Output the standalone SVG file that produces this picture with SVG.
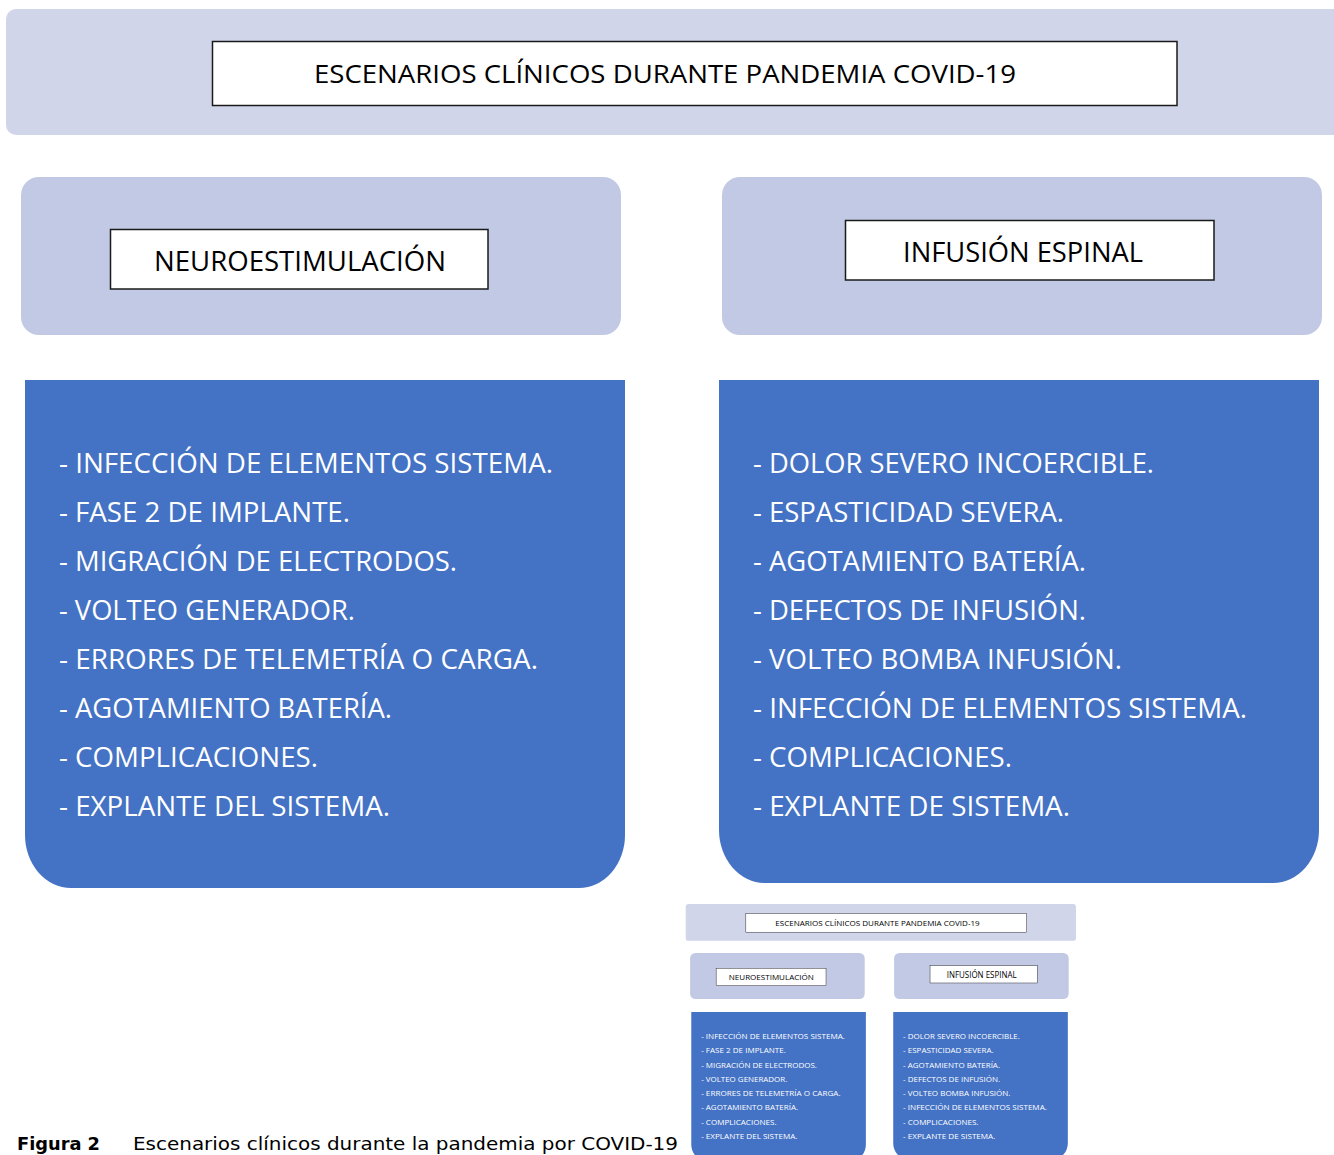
<svg xmlns="http://www.w3.org/2000/svg" xmlns:xlink="http://www.w3.org/1999/xlink" width="1334" height="1155" viewBox="0 0 1334 1155">
<style>
.banner{fill:#D0D5EA}
.hdr{fill:#C1C9E5}
.lbl{fill:#FFFFFF;stroke:#1A1A1A;stroke-width:1.5}
.blue{fill:#4472C4}
.t{font-family:"Open Sans","Liberation Sans",sans-serif;fill:#000}
.li{font-family:"Open Sans","Liberation Sans",sans-serif;fill:#FFFFFF;font-size:27px}
.cap{font-family:"DejaVu Sans","Liberation Sans",sans-serif;font-size:18px;fill:#000}
</style>
<rect width="1334" height="1155" fill="#FFFFFF"/>
<g id="main">
  <g id="node-title">
    <rect class="banner" x="6" y="9" width="1341" height="126" rx="10"/>
    <rect class="lbl" x="212.5" y="41.5" width="964.5" height="64"/>
    <text class="t" x="314" y="83" font-size="25" textLength="702" lengthAdjust="spacingAndGlyphs">ESCENARIOS CLÍNICOS DURANTE PANDEMIA COVID-19</text>
  </g>
  <g id="node-neuro">
    <rect class="hdr" x="21" y="177" width="600" height="158" rx="18"/>
    <rect class="lbl" x="110.5" y="229.5" width="377.5" height="59.5"/>
    <text class="t" x="154" y="271" font-size="27" textLength="292" lengthAdjust="spacingAndGlyphs">NEUROESTIMULACIÓN</text>
  </g>
  <g id="node-infusion">
    <rect class="hdr" x="722" y="177" width="600" height="158" rx="18"/>
    <rect class="lbl" x="845.5" y="220.5" width="368.5" height="59.5"/>
    <text class="t" x="903" y="262" font-size="28" textLength="240" lengthAdjust="spacingAndGlyphs">INFUSIÓN ESPINAL</text>
  </g>
  <g id="node-neuro-list">
    <path class="blue" d="M25 380 H625 V835 A46 53 0 0 1 579 888 H71 A46 53 0 0 1 25 835 Z"/>
    <text class="li" x="59" y="473" textLength="494" lengthAdjust="spacingAndGlyphs">- INFECCIÓN DE ELEMENTOS SISTEMA.</text>
    <text class="li" x="59" y="522" textLength="291" lengthAdjust="spacingAndGlyphs">- FASE 2 DE IMPLANTE.</text>
    <text class="li" x="59" y="571" textLength="398" lengthAdjust="spacingAndGlyphs">- MIGRACIÓN DE ELECTRODOS.</text>
    <text class="li" x="59" y="620" textLength="296" lengthAdjust="spacingAndGlyphs">- VOLTEO GENERADOR.</text>
    <text class="li" x="59" y="669" textLength="479" lengthAdjust="spacingAndGlyphs">- ERRORES DE TELEMETRÍA O CARGA.</text>
    <text class="li" x="59" y="718" textLength="333" lengthAdjust="spacingAndGlyphs">- AGOTAMIENTO BATERÍA.</text>
    <text class="li" x="59" y="767" textLength="259" lengthAdjust="spacingAndGlyphs">- COMPLICACIONES.</text>
    <text class="li" x="59" y="816" textLength="331" lengthAdjust="spacingAndGlyphs">- EXPLANTE DEL SISTEMA.</text>
  </g>
  <g id="node-infusion-list">
    <path class="blue" d="M719 380 H1319 V830 A46 53 0 0 1 1273 883 H765 A46 53 0 0 1 719 830 Z"/>
    <text class="li" x="753" y="473" textLength="401" lengthAdjust="spacingAndGlyphs">- DOLOR SEVERO INCOERCIBLE.</text>
    <text class="li" x="753" y="522" textLength="311" lengthAdjust="spacingAndGlyphs">- ESPASTICIDAD SEVERA.</text>
    <text class="li" x="753" y="571" textLength="333" lengthAdjust="spacingAndGlyphs">- AGOTAMIENTO BATERÍA.</text>
    <text class="li" x="753" y="620" textLength="333" lengthAdjust="spacingAndGlyphs">- DEFECTOS DE INFUSIÓN.</text>
    <text class="li" x="753" y="669" textLength="369" lengthAdjust="spacingAndGlyphs">- VOLTEO BOMBA INFUSIÓN.</text>
    <text class="li" x="753" y="718" textLength="494" lengthAdjust="spacingAndGlyphs">- INFECCIÓN DE ELEMENTOS SISTEMA.</text>
    <text class="li" x="753" y="767" textLength="259" lengthAdjust="spacingAndGlyphs">- COMPLICACIONES.</text>
    <text class="li" x="753" y="816" textLength="317" lengthAdjust="spacingAndGlyphs">- EXPLANTE DE SISTEMA.</text>
  </g>
</g>
<g id="connectors"/>
<g id="thumbnail">
  <use href="#main" xlink:href="#main" transform="translate(684,901.5) scale(0.291)"/>
</g>
<g id="caption">
  <text class="cap" x="17" y="1150" font-weight="bold" textLength="83" lengthAdjust="spacingAndGlyphs">Figura 2</text>
  <text class="cap" x="133" y="1150" textLength="545" lengthAdjust="spacingAndGlyphs">Escenarios clínicos durante la pandemia por COVID-19</text>
</g>
</svg>
